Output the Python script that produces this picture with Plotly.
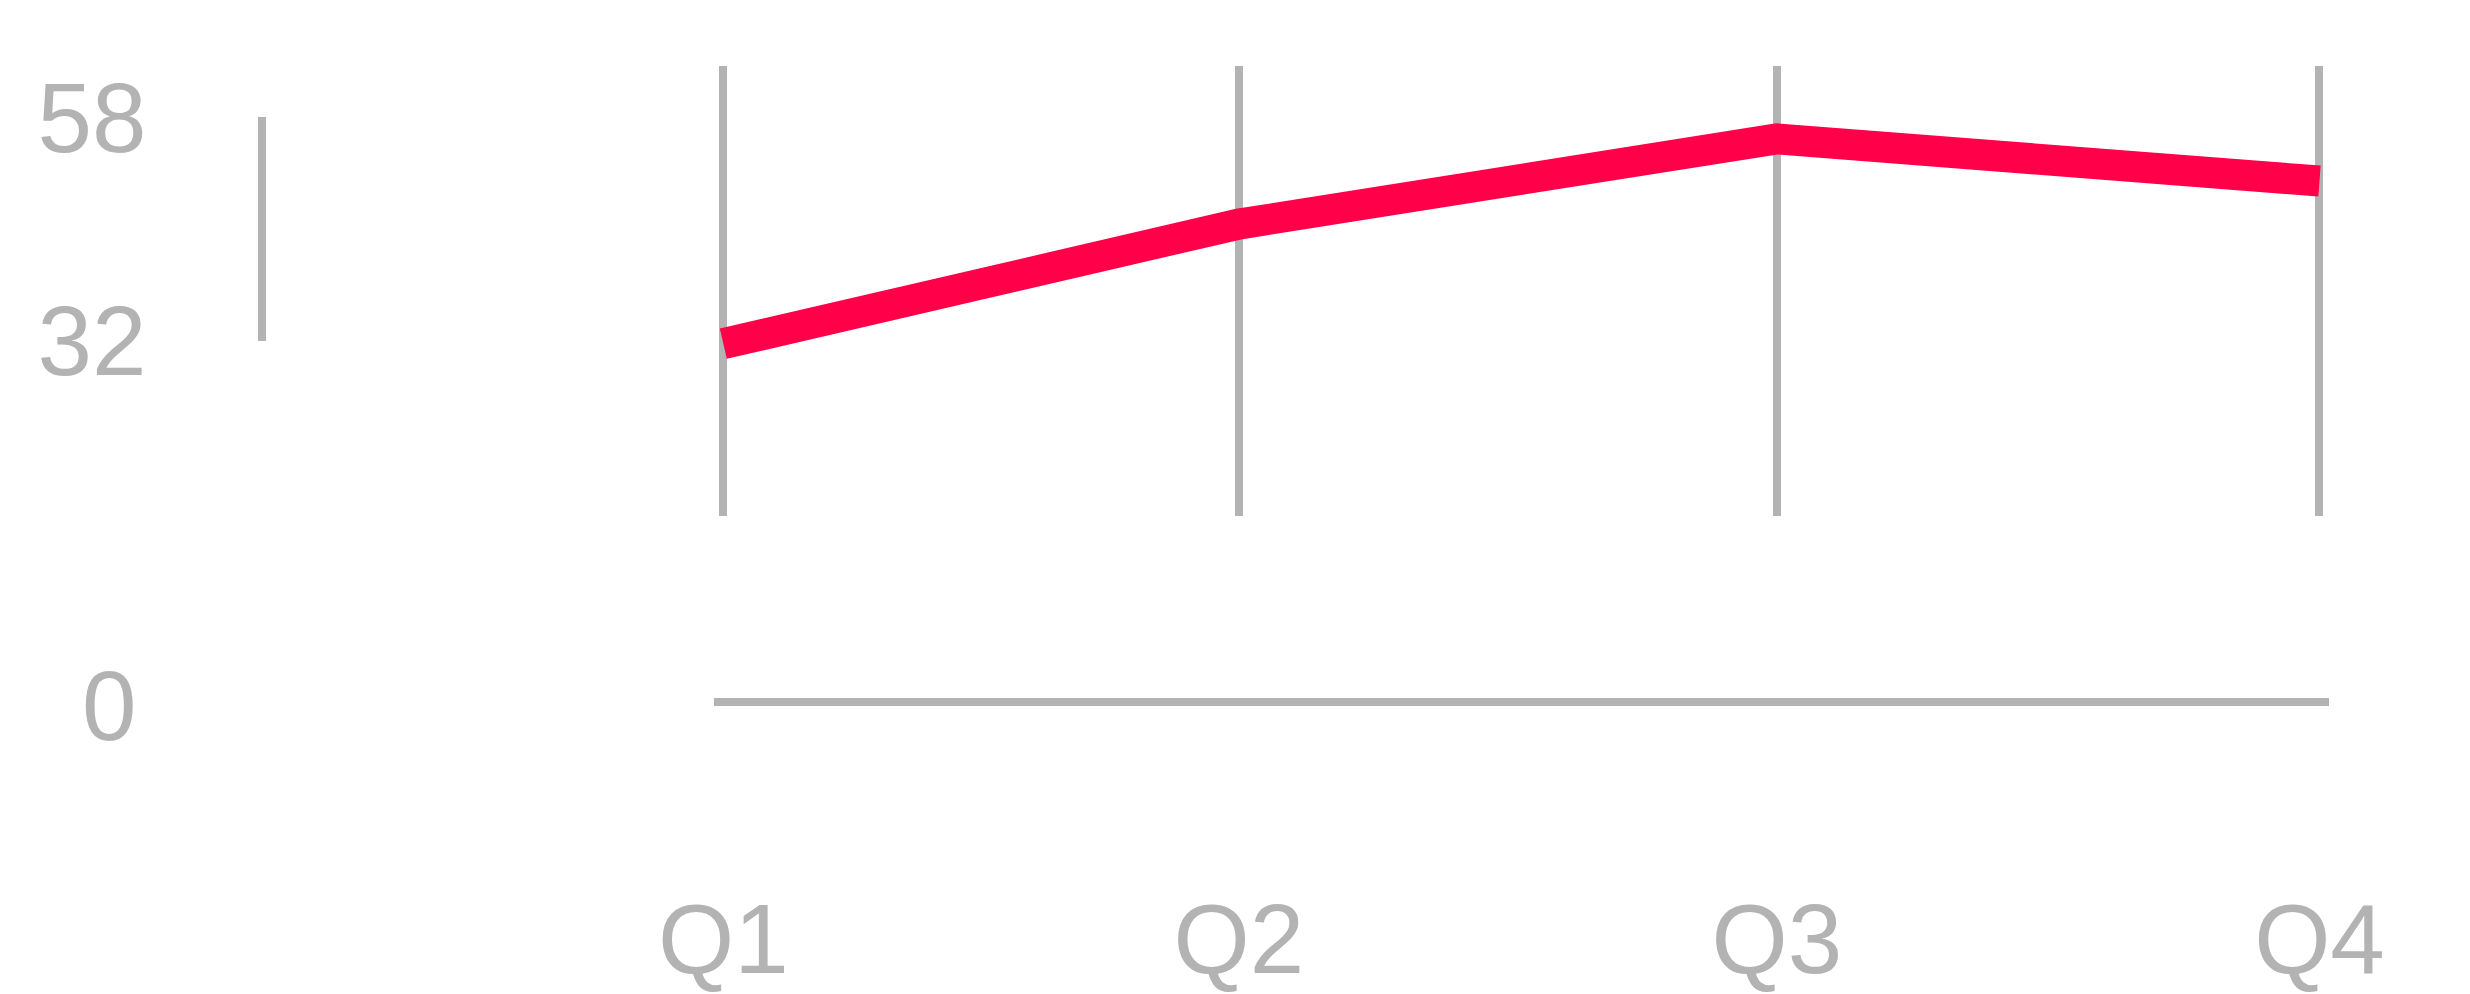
import plotly.graph_objects as go

# ---- data ----
quarters = ["Q1", "Q2", "Q3", "Q4"]
quarter_x = [0, 0.969, 1.98, 3.0]     # horizontal position of each quarter
values = [31.7, 45.6, 55.5, 50.6]     # line values
y_tick_vals = [32, 58]
y_tick_text = ["32", "58"]
zero_tick_vals = [0]
zero_tick_text = ["0"]

# ---- styling / layout (pixel geometry of the page) ----
W, H = 2470, 994
GRAY = "#b3b3b3"
RED = "#ff0049"
FONT = "Liberation Sans, Arial, Helvetica, sans-serif"
FS = 98

def fx(p):
    return p / W

def fy(p):
    return 1 - p / H

Q1_PX, Q4_PX = 699, 2371
BASE_L, BASE_R = 689, 2381
unit = (Q4_PX - Q1_PX) / 3.0
x_dom = [fx(BASE_L), fx(BASE_R)]
x_range = [(BASE_L - Q1_PX) / unit, (BASE_R - Q1_PX) / unit]

# value scale of the line: 32 -> 335px, 58 -> 73px
P32, P58 = 335, 73
ppu = (P32 - P58) / 26
GRID_TOP, GRID_BOT = 13, 540
y_range = [32 - (GRID_BOT - P32) / ppu, 58 + (P58 - GRID_TOP) / ppu]

AXIS_X = 216
BASELINE_Y = 757
ZERO_Y = 762
Y4_DOM = [0, 0.4]
y4_h = (Y4_DOM[1] - Y4_DOM[0]) * H
y4_lo = -(H - ZERO_Y) / y4_h
y4_range = [y4_lo, y4_lo + 1]

fig = go.Figure()
fig.add_trace(go.Scatter(x=quarter_x, y=values, mode="lines",
                         line=dict(color=RED, width=31),
                         xaxis="x", yaxis="y", hoverinfo="skip", showlegend=False))
# carrier traces for the decorative axes
fig.add_trace(go.Scatter(x=quarter_x, y=[None] * 4, xaxis="x2", yaxis="y",
                         showlegend=False, hoverinfo="skip"))
fig.add_trace(go.Scatter(x=quarter_x, y=[None] * 4, xaxis="x3", yaxis="y3",
                         showlegend=False, hoverinfo="skip"))
fig.add_trace(go.Scatter(x=quarter_x, y=[None] * 4, xaxis="x3", yaxis="y4",
                         showlegend=False, hoverinfo="skip"))

fig.update_layout(
    width=W, height=H,
    margin=dict(l=0, r=0, t=0, b=0),
    paper_bgcolor="white", plot_bgcolor="rgba(0,0,0,0)",
    font=dict(family=FONT, color=GRAY, size=FS),
    showlegend=False,
    xaxis=dict(domain=x_dom, range=x_range, anchor="y",
               tickvals=quarter_x, showticklabels=False, ticks="",
               showgrid=True, gridcolor=GRAY, gridwidth=8,
               zeroline=False, showline=False),
    xaxis2=dict(domain=x_dom, matches="x", anchor="free", overlaying="x",
                position=(H - BASELINE_Y) / H, side="bottom",
                tickvals=quarter_x, ticktext=quarters,
                tickfont=dict(size=FS, color=GRAY, family=FONT),
                ticks="outside", ticklen=150, tickcolor="rgba(0,0,0,0)",
                showgrid=False, zeroline=False,
                showline=True, linecolor=GRAY, linewidth=8),
    xaxis3=dict(domain=x_dom, range=x_range, anchor="y3", visible=False,
                showgrid=False),
    yaxis=dict(domain=[fy(GRID_BOT), fy(GRID_TOP)], range=y_range, anchor="x",
               visible=False, showgrid=False, zeroline=False),
    yaxis3=dict(domain=[fy(P32), fy(P58)], range=[32, 58], anchor="free",
                position=fx(AXIS_X),
                tickvals=y_tick_vals, ticktext=y_tick_text,
                tickfont=dict(size=FS, color=GRAY, family=FONT),
                ticks="outside", ticklen=92, tickcolor="rgba(0,0,0,0)",
                showgrid=False, zeroline=False,
                showline=True, linecolor=GRAY, linewidth=8),
    yaxis4=dict(domain=Y4_DOM, range=y4_range,
                anchor="free", position=fx(AXIS_X),
                tickvals=zero_tick_vals, ticktext=zero_tick_text,
                tickfont=dict(size=FS, color=GRAY, family=FONT),
                ticks="outside", ticklen=106, tickcolor="rgba(0,0,0,0)",
                showgrid=False, zeroline=False, showline=False),
)

fig.write_html("out.html")
